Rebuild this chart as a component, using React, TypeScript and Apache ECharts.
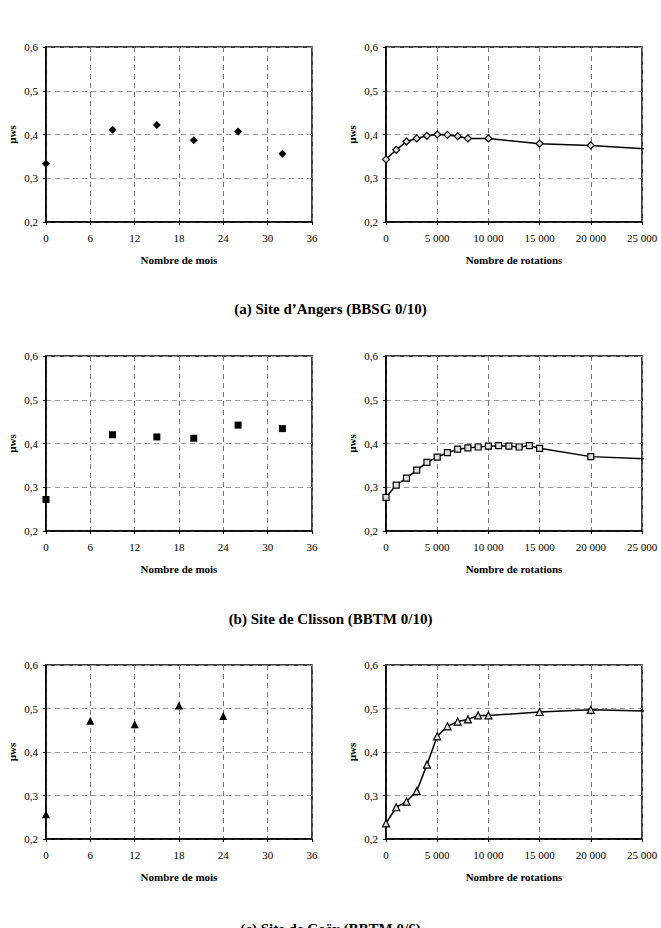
import React, { useEffect, useRef } from "react";
import * as echarts from "echarts";

// Months axis ticks: 0..36 step 6 ; rotations axis: 0..25 000 step 5 000
const monthTicksMax = 36;
const rotTicksMax = 25000;
const yTickLabels = ["0,2", "0,3", "0,4", "0,5", "0,6"];

// (a) Angers
const angersMonths = [0, 9, 15, 20, 26, 32];
const angersMonthVals = [0.333, 0.411, 0.422, 0.387, 0.407, 0.356];
const angersRot = [0, 1000, 2000, 3000, 4000, 5000, 6000, 7000, 8000, 10000, 15000, 20000, 25300];
const angersRotVals = [0.343, 0.365, 0.384, 0.391, 0.397, 0.4, 0.399, 0.396, 0.391, 0.391, 0.379, 0.375, 0.367];

// (b) Clisson
const clissonMonths = [0, 9, 15, 20, 26, 32];
const clissonMonthVals = [0.272, 0.42, 0.415, 0.412, 0.442, 0.434];
const clissonRot = [0, 1000, 2000, 3000, 4000, 5000, 6000, 7000, 8000, 9000, 10000, 11000, 12000, 13000, 14000, 15000, 20000, 25300];
const clissonRotVals = [0.277, 0.305, 0.321, 0.339, 0.357, 0.369, 0.379, 0.387, 0.39, 0.392, 0.394, 0.395, 0.394, 0.392, 0.395, 0.389, 0.37, 0.365];

// (c) Coëx
const coexMonths = [0, 6, 12, 18, 24];
const coexMonthVals = [0.257, 0.472, 0.464, 0.507, 0.483];
const coexRot = [0, 1000, 2000, 3000, 4000, 5000, 6000, 7000, 8000, 9000, 10000, 15000, 20000, 25300];
const coexRotVals = [0.236, 0.273, 0.286, 0.31, 0.371, 0.436, 0.459, 0.47, 0.475, 0.484, 0.484, 0.492, 0.497, 0.494];

const captions = [
  "(a) Site d\u2019Angers (BBSG 0/10)",
  "(b) Site de Clisson (BBTM 0/10)",
  "(c) Site de Co\u00ebx (BBTM 0/6)",
];

const FONT = "'Liberation Serif', 'Times New Roman', serif";

export default function App() {
  const ref = useRef<HTMLDivElement>(null);
  useEffect(() => {
    if (!ref.current) return;
    const chart = echarts.init(ref.current, null, { renderer: "svg" });

    const rowTops = [47, 356, 665];
    const rowHeights = [175, 175, 174];
    const captionTops = [301, 611, 921];

    const grids: any[] = [];
    const xAxes: any[] = [];
    const yAxes: any[] = [];
    const series: any[] = [];

    const monthsData = [
      [angersMonths, angersMonthVals, "diamond", 8],
      [clissonMonths, clissonMonthVals, "rect", 7],
      [coexMonths, coexMonthVals, "triangle", 8],
    ];
    const rotData = [
      [angersRot, angersRotVals, "diamond", 7],
      [clissonRot, clissonRotVals, "rect", 6],
      [coexRot, coexRotVals, "triangle", 7],
    ];

    const yAxisBase = (gi: number) => ({
      type: "value",
      gridIndex: gi,
      min: 0.2,
      max: 0.6,
      interval: 0.1,
      name: "\u00b5ws",
      nameLocation: "middle",
      nameGap: 29,
      nameRotate: 90,
      nameTextStyle: { fontFamily: FONT, fontWeight: "bold", fontSize: 11, color: "#000" },
      axisLine: { show: true, lineStyle: { color: "#000", width: 1.5 } },
      axisTick: { show: true, inside: false, length: 3, lineStyle: { color: "#000" } },
      axisLabel: {
        fontFamily: FONT,
        fontSize: 11,
        color: "#000",
        margin: 8,
        formatter: (v: number) => yTickLabels[Math.round((v - 0.2) * 10)] ?? "",
      },
      splitLine: { show: true, lineStyle: { color: "#999", type: [5, 4], width: 1 } },
    });

    const xAxisBase = (gi: number, max: number, interval: number, name: string, fmt: (v: number) => string) => ({
      type: "value",
      gridIndex: gi,
      min: 0,
      max,
      interval,
      name,
      nameLocation: "middle",
      nameGap: 32,
      nameTextStyle: { fontFamily: FONT, fontWeight: "bold", fontSize: 11, color: "#000" },
      axisLine: { show: true, lineStyle: { color: "#000", width: 1.5 } },
      axisTick: { show: true, inside: false, length: 3, lineStyle: { color: "#000" } },
      axisLabel: { fontFamily: FONT, fontSize: 11, color: "#000", margin: 10, formatter: fmt },
      splitLine: { show: true, lineStyle: { color: "#777", type: [5, 4], width: 1 } },
    });

    for (let r = 0; r < 3; r++) {
      const giL = r * 2;
      const giR = r * 2 + 1;
      grids.push({
        left: 46, top: rowTops[r], width: 266, height: rowHeights[r],
        show: true, borderColor: "#000", borderWidth: 1.5, backgroundColor: "transparent",
      });
      grids.push({
        left: 386, top: rowTops[r], width: 256, height: rowHeights[r],
        show: true, borderColor: "#000", borderWidth: 1.5, backgroundColor: "transparent",
      });
      xAxes.push(xAxisBase(giL, monthTicksMax, 6, "Nombre de mois", (v: number) => String(v)));
      xAxes.push(
        xAxisBase(giR, rotTicksMax, 5000, "Nombre de rotations", (v: number) =>
          v === 0 ? "0" : `${Math.round(v / 1000)} 000`
        )
      );
      yAxes.push(yAxisBase(giL));
      yAxes.push(yAxisBase(giR));

      const [mx, my, msym, msize] = monthsData[r] as any;
      series.push({
        type: "scatter",
        xAxisIndex: giL,
        yAxisIndex: giL,
        symbol: msym,
        symbolSize: msize,
        itemStyle: { color: "#000", opacity: 1 },
        clip: false,
        data: (mx as number[]).map((x, i) => [x, (my as number[])[i]]),
      });

      const [rx, ry, rsym, rsize] = rotData[r] as any;
      const rxs = rx as number[];
      series.push({
        type: "line",
        xAxisIndex: giR,
        yAxisIndex: giR,
        symbol: rsym,
        symbolSize: rsize,
        showAllSymbol: true,
        clip: false,
        lineStyle: { color: "#000", width: 1.5 },
        itemStyle: { color: "#e0e0e0", borderColor: "#000", borderWidth: 1.2 },
        data: rxs.map((x, i) => {
          const d: any = { value: [x, (ry as number[])[i]] };
          if (i === rxs.length - 1) d.symbol = "none";
          return d;
        }),
      });
    }

    chart.setOption({
      animation: false,
      backgroundColor: "#fff",
      title: captions.map((t, i) => ({
        text: t,
        left: "center",
        top: captionTops[i],
        padding: 0,
        textStyle: { fontFamily: FONT, fontWeight: "bold", fontSize: 15, color: "#000" },
      })),
      grid: grids,
      xAxis: xAxes,
      yAxis: yAxes,
      series,
    });
    return () => chart.dispose();
  }, []);

  return (
    <div
      ref={ref}
      style={{ position: "absolute", left: 0, top: 0, width: 661, height: 928 }}
    />
  );
}
